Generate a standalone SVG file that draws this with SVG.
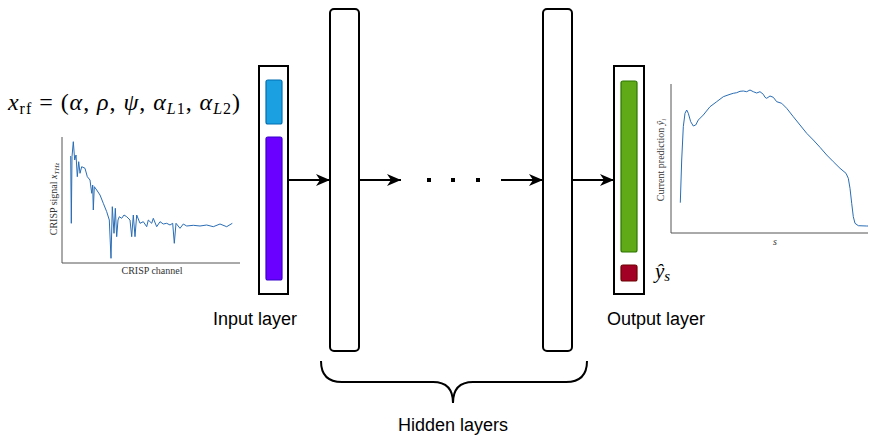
<svg xmlns="http://www.w3.org/2000/svg" width="870" height="437" viewBox="0 0 870 437">
<style>
.layer{fill:#fff;stroke:#000;stroke-width:2}
.conn{stroke:#000;stroke-width:2;fill:none}
.lbl{font-family:"Liberation Sans",Arial,sans-serif;font-size:18px;fill:#000}
.math{font-family:"Liberation Serif","DejaVu Serif",serif;fill:#000}
.ax{stroke:#555;stroke-width:1;fill:none}
.curve{stroke:#2a6db5;stroke-width:1;fill:none;stroke-linejoin:round}
.small{font-family:"Liberation Serif","DejaVu Serif",serif;font-size:10px;fill:#333}
</style>
<defs>
<marker id="arr" markerWidth="15" markerHeight="14" refX="14" refY="7" orient="auto" markerUnits="userSpaceOnUse">
<path d="M0,1 L14,7 L0,13 L4,7 Z" fill="#000"/>
</marker>
</defs>
<rect width="870" height="437" fill="#fff"/>

<g id="formula">
<text class="math" x="8" y="110" font-size="24" textLength="232" lengthAdjust="spacing"><tspan font-style="italic">x</tspan><tspan font-size="16" dy="4">rf</tspan><tspan dy="-4"> = (</tspan><tspan font-style="italic">α</tspan>, <tspan font-style="italic">ρ</tspan>, <tspan font-style="italic">ψ</tspan>, <tspan font-style="italic">α</tspan><tspan font-style="italic" font-size="16" dy="4">L</tspan><tspan font-size="16">1</tspan><tspan dy="-4">, </tspan><tspan font-style="italic">α</tspan><tspan font-style="italic" font-size="16" dy="4">L</tspan><tspan font-size="16">2</tspan><tspan dy="-4">)</tspan></text>
</g>

<g id="input-chart">
<polyline class="ax" points="62,137 62,263 240,263"/>
<polyline class="curve" points="70.7,156 71.3,223.3 72,156.7 73.3,141.7 74.7,160 76,155 77.3,176.7 78.7,161.7 80,173.3 81.7,166.7 85,168.3 87.3,176.7 90,180 91.7,193.3 92.7,185 93.3,210 94.3,186.7 96.7,190 100,195 103.3,203.3 106.7,211.7 109.3,220 111,258.3 112.3,206.7 114,233.3 115.3,208.3 116.7,236.7 118,220 119.3,216.7 121.7,218.3 124,215 126.7,216.7 130,220 131.7,236.7 133.3,215 135,236.7 136.7,215 140,223.3 143.3,221.7 146.7,226.7 148.3,220 151.7,223.3 153.3,218.3 156.7,226.7 160,221.7 163.3,224 166.7,223.3 170,225 172.7,223.3 174.3,243.3 176,223.3 180,228.3 183.3,224 186.7,226 193.3,225.3 200,226 206.7,225 213.3,226.7 220,224 226.7,226.7 232.3,223.3"/>
<text class="small" x="152" y="274" text-anchor="middle">CRISP channel</text>
<text class="small" transform="translate(57,199) rotate(-90)" text-anchor="middle">CRISP signal <tspan font-style="italic">x</tspan><tspan font-style="italic" font-size="7" dy="1.5">THz</tspan></text>
</g>

<g id="input-layer">
<rect class="layer" x="259" y="66" width="29" height="228"/>
<rect x="266" y="80" width="16" height="44" rx="2" fill="#1ba1e2" stroke="#006eaf" stroke-width="1.2"/>
<rect x="266" y="137" width="16" height="143" rx="2" fill="#6a00ff" stroke="#3700cc" stroke-width="1.2"/>
<text class="lbl" x="255" y="325" text-anchor="middle">Input layer</text>
</g>

<g id="hidden-1">
<rect class="layer" x="330" y="9" width="29" height="342" rx="4"/>
</g>
<g id="hidden-2">
<rect class="layer" x="543" y="9" width="29" height="342" rx="4"/>
</g>

<g id="ellipsis">
<rect x="427" y="178" width="4" height="4" fill="#000"/>
<rect x="451" y="178" width="4" height="4" fill="#000"/>
<rect x="476" y="178" width="4" height="4" fill="#000"/>
</g>

<g id="output-layer">
<rect class="layer" x="614" y="66" width="30" height="228"/>
<rect x="621" y="81" width="16" height="171" rx="2" fill="#60a917" stroke="#2d7600" stroke-width="1.2"/>
<rect x="621" y="265" width="16" height="16" rx="2" fill="#a20025" stroke="#6f0000" stroke-width="1.2"/>
<text class="math" x="655" y="278" font-size="21"><tspan font-style="italic">ŷ</tspan><tspan font-style="italic" font-size="15" dy="3">s</tspan></text>
<text class="lbl" x="656" y="325" text-anchor="middle">Output layer</text>
</g>

<g id="output-chart">
<polyline class="ax" points="671,84 671,233 868,233"/>
<polyline class="curve" points="680.3,202.7 681.7,160 683.3,126.7 685,113.3 686.7,110 688.3,113.3 690.7,121.7 693.3,126 695.7,125 698.3,120 703.3,115 710,106.7 716.7,101.7 723.3,96.7 730,94.3 733.3,93.3 736.7,92.7 740,91.3 743.3,91 746.7,91.7 750,90 753.3,91.7 756.7,93 760,91.7 763.3,94.3 765,97.3 766.7,98.3 770,96 773.3,97.3 776.7,101.7 781.7,103.3 786.7,108.3 793.3,116.7 800,125 806.7,133.3 813.3,140 820,147.3 826.7,155 833.3,161.7 840,168.3 846,173.3 848.3,178.3 850,188.3 851.7,203.3 853.3,216.7 855,223.3 858.3,225.7 866.7,226 868,226"/>
<text class="small" x="775" y="245" font-style="italic" text-anchor="middle">s</text>
<text class="small" transform="translate(664,160) rotate(-90)" text-anchor="middle">Current prediction <tspan font-style="italic">ŷ</tspan><tspan font-style="italic" font-size="7" dy="1.5">i</tspan></text>
</g>

<g id="connectors">
<line class="conn" x1="288" y1="180" x2="330" y2="180" marker-end="url(#arr)"/>
<line class="conn" x1="359" y1="180" x2="401" y2="180" marker-end="url(#arr)"/>
<line class="conn" x1="501" y1="180" x2="543" y2="180" marker-end="url(#arr)"/>
<line class="conn" x1="572" y1="180" x2="614" y2="180" marker-end="url(#arr)"/>
</g>

<g id="hidden-brace">
<path class="conn" d="M321,361 Q321,382 342,382 L433,382 Q453,382 453,403 Q453,382 473,382 L566,382 Q587,382 587,361"/>
<text class="lbl" x="453" y="431" text-anchor="middle">Hidden layers</text>
</g>
</svg>
